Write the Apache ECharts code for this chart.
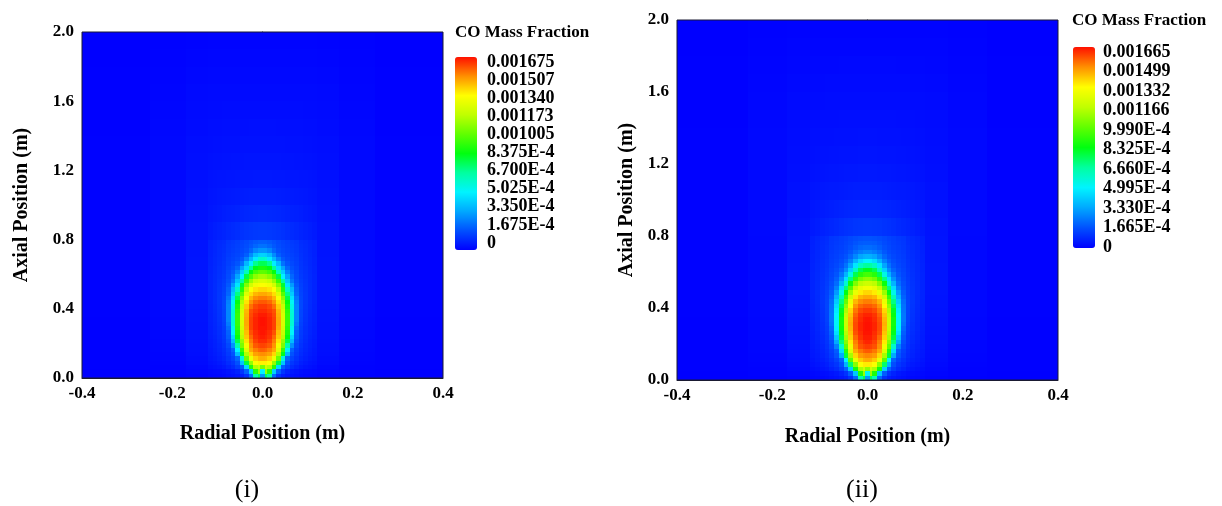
<!DOCTYPE html>
<html>
<head>
<meta charset="utf-8">
<title>CO Mass Fraction</title>
<script src="https://cdn.jsdelivr.net/npm/echarts/dist/echarts.min.js"></script>
<style>
  html, body { margin: 0; padding: 0; background: #fff; }
  #chart { width: 1222px; height: 506px; }
</style>
</head>
<body>
<div id="chart"></div>
<script>
// radial cell edges (m), mirrored about the axis when drawn
const radialEdges = [0, 0.005, 0.01, 0.02, 0.03, 0.04, 0.05, 0.06, 0.07, 0.08, 0.09, 0.10, 0.11, 0.12, 0.17, 0.25, 0.40];
// axial cell edges (m)
const axialEdges = [0, 0.025, 0.05, 0.075, 0.1, 0.125, 0.15, 0.175, 0.2, 0.225, 0.25, 0.275, 0.3, 0.325, 0.35, 0.375,
  0.4, 0.425, 0.45, 0.475, 0.5, 0.525, 0.55, 0.575, 0.6, 0.625, 0.65, 0.675, 0.7, 0.725, 0.75, 0.775, 0.8,
  0.9, 1.0, 1.1, 1.2, 1.3, 1.4, 1.5, 1.6, 1.7, 1.8, 1.9, 2.0];

// CO mass fraction (x 1e-4), one row per axial cell, one value per radial cell
const coLeft = [
  [3.0, 7.5, 6.5, 2.2, 1.0, 0.6, 0.45, 0.35, 0.3, 0.2, 0.17, 0.14, 0.12, 0.07, 0.03, 0.01],
  [5.0, 11.0, 9.0, 4.2, 2.0, 1.1, 0.7, 0.5, 0.4, 0.3, 0.24, 0.2, 0.17, 0.1, 0.04, 0.01],
  [10.5, 12.0, 11.5, 9.0, 4.5, 1.9, 1.3, 0.9, 0.7, 0.5, 0.4, 0.33, 0.27, 0.15, 0.05, 0.02],
  [13.6, 13.6, 13.3, 11.0, 7.8, 4.0, 1.7, 1.15, 0.9, 0.65, 0.52, 0.42, 0.35, 0.2, 0.07, 0.02],
  [14.6, 14.5, 14.1, 12.9, 10.3, 5.6, 2.1, 1.4, 1.05, 0.78, 0.62, 0.5, 0.41, 0.24, 0.08, 0.02],
  [15.1, 15.0, 14.8, 14.0, 11.5, 8.2, 3.8, 1.7, 1.2, 0.88, 0.7, 0.56, 0.46, 0.27, 0.09, 0.02],
  [15.7, 15.6, 15.3, 14.7, 12.6, 9.3, 5.0, 2.0, 1.3, 0.95, 0.75, 0.6, 0.49, 0.29, 0.1, 0.03],
  [16.1, 16.0, 15.8, 15.0, 13.1, 10.5, 6.5, 2.9, 1.5, 1.02, 0.8, 0.64, 0.52, 0.3, 0.1, 0.03],
  [16.4, 16.4, 16.1, 15.3, 13.8, 11.0, 7.7, 3.8, 1.7, 1.1, 0.85, 0.68, 0.55, 0.32, 0.11, 0.03],
  [16.6, 16.5, 16.3, 15.6, 14.2, 11.6, 8.4, 4.4, 1.9, 1.18, 0.9, 0.72, 0.58, 0.33, 0.12, 0.03],
  [16.7, 16.6, 16.4, 15.9, 14.4, 11.9, 8.8, 5.1, 2.0, 1.22, 0.94, 0.75, 0.6, 0.34, 0.12, 0.03],
  [16.7, 16.7, 16.5, 16.1, 14.6, 12.2, 9.1, 5.4, 2.2, 1.27, 0.97, 0.77, 0.62, 0.35, 0.13, 0.03],
  [16.75, 16.7, 16.5, 16.1, 14.7, 12.4, 9.3, 5.8, 2.5, 1.35, 1.0, 0.8, 0.64, 0.36, 0.13, 0.03],
  [16.75, 16.7, 16.5, 16.1, 14.7, 12.4, 9.3, 5.8, 2.7, 1.4, 1.04, 0.82, 0.66, 0.37, 0.13, 0.03],
  [16.6, 16.6, 16.4, 16.0, 14.6, 12.4, 9.3, 5.8, 2.7, 1.44, 1.06, 0.84, 0.67, 0.38, 0.14, 0.04],
  [16.4, 16.4, 16.2, 15.9, 14.5, 12.2, 9.1, 5.7, 2.7, 1.45, 1.08, 0.86, 0.69, 0.38, 0.14, 0.04],
  [16.2, 16.2, 16.0, 15.5, 14.2, 11.9, 8.8, 5.5, 2.7, 1.48, 1.12, 0.88, 0.7, 0.39, 0.15, 0.04],
  [15.8, 15.8, 15.6, 15.0, 13.8, 11.4, 8.4, 5.2, 2.6, 1.48, 1.13, 0.9, 0.72, 0.4, 0.15, 0.04],
  [15.3, 15.3, 15.1, 14.5, 13.2, 10.8, 7.7, 4.6, 2.4, 1.45, 1.13, 0.9, 0.73, 0.41, 0.15, 0.04],
  [14.7, 14.7, 14.5, 13.9, 12.5, 9.9, 7.0, 4.1, 2.1, 1.4, 1.13, 0.91, 0.74, 0.41, 0.15, 0.04],
  [14.0, 14.0, 13.8, 13.3, 11.6, 9.0, 6.0, 3.7, 2.0, 1.36, 1.1, 0.9, 0.74, 0.42, 0.15, 0.04],
  [13.3, 13.2, 13.0, 12.2, 10.6, 8.0, 4.7, 3.1, 1.8, 1.32, 1.08, 0.89, 0.74, 0.42, 0.15, 0.04],
  [12.4, 12.3, 12.0, 11.0, 9.3, 6.7, 4.0, 2.4, 1.65, 1.26, 1.06, 0.88, 0.73, 0.42, 0.15, 0.04],
  [11.3, 11.2, 10.8, 9.7, 7.8, 5.0, 3.3, 2.1, 1.55, 1.2, 1.03, 0.87, 0.73, 0.42, 0.15, 0.04],
  [10.0, 9.9, 9.5, 8.4, 6.2, 4.2, 2.6, 1.85, 1.48, 1.16, 1.0, 0.85, 0.72, 0.42, 0.15, 0.04],
  [8.8, 8.7, 8.3, 6.8, 4.5, 3.3, 2.1, 1.65, 1.4, 1.12, 0.98, 0.84, 0.71, 0.41, 0.15, 0.04],
  [7.6, 7.5, 6.9, 4.9, 3.7, 2.3, 1.75, 1.5, 1.32, 1.08, 0.95, 0.82, 0.7, 0.41, 0.15, 0.04],
  [6.0, 5.8, 4.8, 3.7, 2.6, 1.85, 1.55, 1.4, 1.27, 1.05, 0.93, 0.81, 0.69, 0.41, 0.15, 0.04],
  [4.3, 4.2, 3.8, 2.8, 1.95, 1.6, 1.45, 1.33, 1.22, 1.02, 0.91, 0.8, 0.68, 0.4, 0.15, 0.04],
  [3.0, 3.0, 2.7, 2.1, 1.7, 1.5, 1.38, 1.28, 1.18, 0.99, 0.89, 0.78, 0.67, 0.4, 0.15, 0.04],
  [2.3, 2.3, 2.1, 1.8, 1.6, 1.45, 1.33, 1.24, 1.15, 0.96, 0.87, 0.77, 0.66, 0.39, 0.15, 0.04],
  [1.95, 1.95, 1.85, 1.7, 1.52, 1.4, 1.3, 1.2, 1.12, 0.93, 0.85, 0.76, 0.66, 0.39, 0.15, 0.04],
  [1.2, 1.2, 1.18, 1.14, 1.08, 1.02, 0.95, 0.88, 0.81, 0.74, 0.67, 0.6, 0.53, 0.38, 0.17, 0.04],
  [0.85, 0.85, 0.84, 0.82, 0.79, 0.76, 0.72, 0.68, 0.64, 0.6, 0.55, 0.5, 0.46, 0.35, 0.17, 0.04],
  [0.63, 0.63, 0.62, 0.62, 0.6, 0.59, 0.57, 0.55, 0.53, 0.5, 0.48, 0.45, 0.42, 0.33, 0.17, 0.04],
  [0.5, 0.5, 0.5, 0.49, 0.49, 0.48, 0.47, 0.45, 0.44, 0.42, 0.41, 0.39, 0.37, 0.31, 0.17, 0.04],
  [0.42, 0.42, 0.42, 0.41, 0.41, 0.4, 0.4, 0.39, 0.38, 0.37, 0.36, 0.35, 0.33, 0.29, 0.17, 0.04],
  [0.36, 0.36, 0.36, 0.35, 0.35, 0.35, 0.34, 0.34, 0.33, 0.33, 0.32, 0.31, 0.3, 0.27, 0.16, 0.04],
  [0.31, 0.31, 0.31, 0.31, 0.3, 0.3, 0.3, 0.29, 0.29, 0.29, 0.28, 0.27, 0.27, 0.24, 0.15, 0.03],
  [0.26, 0.26, 0.26, 0.26, 0.26, 0.26, 0.25, 0.25, 0.25, 0.25, 0.24, 0.24, 0.23, 0.21, 0.13, 0.03],
  [0.21, 0.21, 0.21, 0.21, 0.21, 0.21, 0.21, 0.21, 0.21, 0.21, 0.2, 0.2, 0.2, 0.18, 0.11, 0.02],
  [0.17, 0.17, 0.17, 0.17, 0.17, 0.17, 0.17, 0.16, 0.16, 0.16, 0.16, 0.16, 0.16, 0.14, 0.08, 0.02],
  [0.12, 0.12, 0.12, 0.12, 0.12, 0.12, 0.12, 0.12, 0.12, 0.12, 0.12, 0.12, 0.12, 0.1, 0.06, 0.01],
  [0.08, 0.08, 0.08, 0.08, 0.08, 0.08, 0.08, 0.08, 0.08, 0.08, 0.08, 0.08, 0.08, 0.07, 0.04, 0.01]
];

const coRight = [
  [3.0, 7.5, 6.3, 2.1, 1.0, 0.6, 0.45, 0.35, 0.3, 0.2, 0.17, 0.14, 0.12, 0.07, 0.03, 0.01],
  [5.2, 11.0, 8.8, 4.0, 1.9, 1.05, 0.7, 0.5, 0.4, 0.3, 0.24, 0.2, 0.17, 0.1, 0.04, 0.01],
  [10.8, 12.0, 11.3, 8.6, 4.2, 2.0, 1.25, 0.88, 0.68, 0.48, 0.39, 0.32, 0.26, 0.15, 0.05, 0.02],
  [13.6, 13.6, 13.2, 10.7, 7.3, 3.6, 1.6, 1.1, 0.88, 0.63, 0.5, 0.41, 0.34, 0.19, 0.07, 0.02],
  [14.6, 14.5, 14.1, 12.8, 9.9, 5.1, 2.0, 1.35, 1.02, 0.75, 0.6, 0.49, 0.4, 0.23, 0.08, 0.02],
  [15.1, 15.0, 14.8, 13.9, 11.2, 7.8, 3.4, 1.7, 1.18, 0.85, 0.68, 0.55, 0.45, 0.26, 0.09, 0.02],
  [15.7, 15.6, 15.3, 14.6, 12.4, 8.9, 4.5, 1.9, 1.28, 0.92, 0.73, 0.59, 0.48, 0.28, 0.1, 0.03],
  [16.1, 16.0, 15.8, 15.0, 12.9, 10.0, 5.9, 2.6, 1.45, 1.0, 0.78, 0.63, 0.51, 0.29, 0.1, 0.03],
  [16.4, 16.3, 16.0, 15.2, 13.6, 10.6, 7.1, 3.4, 1.6, 1.06, 0.83, 0.67, 0.54, 0.31, 0.11, 0.03],
  [16.5, 16.5, 16.2, 15.5, 14.0, 11.2, 7.8, 4.0, 1.8, 1.13, 0.88, 0.7, 0.57, 0.32, 0.12, 0.03],
  [16.6, 16.6, 16.3, 15.8, 14.2, 11.5, 8.2, 4.6, 1.95, 1.18, 0.92, 0.73, 0.59, 0.33, 0.12, 0.03],
  [16.65, 16.6, 16.4, 15.9, 14.4, 11.8, 8.5, 4.9, 2.1, 1.23, 0.95, 0.76, 0.61, 0.34, 0.13, 0.03],
  [16.65, 16.6, 16.4, 15.9, 14.5, 11.9, 8.6, 5.1, 2.3, 1.3, 0.98, 0.78, 0.63, 0.35, 0.13, 0.03],
  [16.6, 16.55, 16.3, 15.8, 14.4, 11.9, 8.6, 5.1, 2.4, 1.35, 1.02, 0.8, 0.65, 0.36, 0.13, 0.03],
  [16.4, 16.4, 16.2, 15.6, 14.2, 11.7, 8.4, 5.0, 2.4, 1.38, 1.04, 0.82, 0.66, 0.37, 0.14, 0.04],
  [16.1, 16.1, 15.9, 15.3, 13.9, 11.3, 8.1, 4.8, 2.35, 1.4, 1.06, 0.84, 0.68, 0.38, 0.14, 0.04],
  [15.7, 15.7, 15.5, 14.9, 13.4, 10.8, 7.6, 4.5, 2.3, 1.42, 1.09, 0.86, 0.69, 0.39, 0.15, 0.04],
  [15.2, 15.2, 15.0, 14.4, 12.8, 10.1, 7.0, 4.1, 2.2, 1.4, 1.1, 0.88, 0.71, 0.4, 0.15, 0.04],
  [14.6, 14.6, 14.4, 13.7, 12.0, 9.3, 6.3, 3.6, 2.0, 1.37, 1.1, 0.88, 0.72, 0.4, 0.15, 0.04],
  [13.9, 13.9, 13.6, 12.8, 11.0, 8.3, 5.4, 3.1, 1.85, 1.33, 1.09, 0.89, 0.73, 0.41, 0.15, 0.04],
  [13.0, 13.0, 12.7, 11.8, 9.8, 7.1, 4.5, 2.6, 1.7, 1.29, 1.07, 0.88, 0.73, 0.41, 0.15, 0.04],
  [12.0, 11.9, 11.6, 10.5, 8.5, 5.8, 3.6, 2.2, 1.6, 1.25, 1.05, 0.87, 0.73, 0.41, 0.15, 0.04],
  [10.8, 10.7, 10.3, 9.1, 7.0, 4.6, 2.9, 1.95, 1.5, 1.2, 1.03, 0.86, 0.72, 0.41, 0.15, 0.04],
  [9.5, 9.4, 9.0, 7.6, 5.5, 3.6, 2.4, 1.75, 1.43, 1.16, 1.0, 0.85, 0.72, 0.41, 0.15, 0.04],
  [8.2, 8.1, 7.6, 6.1, 4.2, 2.8, 2.0, 1.6, 1.37, 1.12, 0.98, 0.84, 0.71, 0.41, 0.15, 0.04],
  [6.7, 6.6, 6.1, 4.7, 3.3, 2.3, 1.75, 1.48, 1.31, 1.09, 0.96, 0.83, 0.7, 0.41, 0.15, 0.04],
  [5.0, 4.9, 4.5, 3.6, 2.6, 1.95, 1.6, 1.4, 1.26, 1.06, 0.94, 0.81, 0.69, 0.4, 0.15, 0.04],
  [3.6, 3.5, 3.3, 2.7, 2.1, 1.7, 1.48, 1.34, 1.22, 1.03, 0.92, 0.8, 0.68, 0.4, 0.15, 0.04],
  [2.7, 2.7, 2.5, 2.2, 1.8, 1.55, 1.4, 1.28, 1.18, 1.0, 0.9, 0.79, 0.67, 0.4, 0.15, 0.04],
  [2.2, 2.2, 2.1, 1.9, 1.65, 1.47, 1.34, 1.24, 1.15, 0.97, 0.88, 0.77, 0.66, 0.39, 0.15, 0.04],
  [1.9, 1.9, 1.85, 1.72, 1.55, 1.41, 1.3, 1.2, 1.12, 0.94, 0.86, 0.76, 0.65, 0.39, 0.15, 0.04],
  [1.7, 1.7, 1.66, 1.58, 1.47, 1.36, 1.26, 1.17, 1.1, 0.92, 0.84, 0.75, 0.65, 0.39, 0.15, 0.04],
  [1.15, 1.15, 1.13, 1.1, 1.05, 0.99, 0.93, 0.86, 0.8, 0.73, 0.66, 0.59, 0.52, 0.37, 0.17, 0.04],
  [0.82, 0.82, 0.81, 0.79, 0.77, 0.74, 0.7, 0.66, 0.62, 0.58, 0.54, 0.49, 0.45, 0.34, 0.17, 0.04],
  [0.61, 0.61, 0.6, 0.6, 0.59, 0.57, 0.55, 0.53, 0.51, 0.49, 0.47, 0.44, 0.41, 0.33, 0.17, 0.04],
  [0.49, 0.49, 0.49, 0.48, 0.48, 0.47, 0.46, 0.44, 0.43, 0.41, 0.4, 0.38, 0.36, 0.3, 0.17, 0.04],
  [0.41, 0.41, 0.41, 0.4, 0.4, 0.39, 0.39, 0.38, 0.37, 0.36, 0.35, 0.34, 0.32, 0.28, 0.17, 0.04],
  [0.35, 0.35, 0.35, 0.34, 0.34, 0.34, 0.33, 0.33, 0.32, 0.32, 0.31, 0.3, 0.29, 0.26, 0.16, 0.04],
  [0.3, 0.3, 0.3, 0.3, 0.29, 0.29, 0.29, 0.28, 0.28, 0.28, 0.27, 0.26, 0.26, 0.23, 0.15, 0.03],
  [0.25, 0.25, 0.25, 0.25, 0.25, 0.25, 0.24, 0.24, 0.24, 0.24, 0.23, 0.23, 0.22, 0.2, 0.13, 0.03],
  [0.2, 0.2, 0.2, 0.2, 0.2, 0.2, 0.2, 0.2, 0.2, 0.2, 0.19, 0.19, 0.19, 0.17, 0.1, 0.02],
  [0.16, 0.16, 0.16, 0.16, 0.16, 0.16, 0.16, 0.15, 0.15, 0.15, 0.15, 0.15, 0.15, 0.13, 0.08, 0.02],
  [0.11, 0.11, 0.11, 0.11, 0.11, 0.11, 0.11, 0.11, 0.11, 0.11, 0.11, 0.11, 0.11, 0.1, 0.06, 0.01],
  [0.07, 0.07, 0.07, 0.07, 0.07, 0.07, 0.07, 0.07, 0.07, 0.07, 0.07, 0.07, 0.07, 0.06, 0.04, 0.01]
];

// colour bar tick labels, bottom to top
const legendLeft = ['0', '1.675E-4', '3.350E-4', '5.025E-4', '6.700E-4', '8.375E-4', '0.001005', '0.001173', '0.001340', '0.001507', '0.001675'];
const legendRight = ['0', '1.665E-4', '3.330E-4', '4.995E-4', '6.660E-4', '8.325E-4', '9.990E-4', '0.001166', '0.001332', '0.001499', '0.001665'];
const maxLeft = 16.75;   // x 1e-4
const maxRight = 16.65;

const fontFamily = "'Liberation Serif', 'Times New Roman', serif";
const rainbow = ['#0000ff', '#0050ff', '#00a8ff', '#00f4ff', '#00ffa0', '#00ff10', '#60ff00', '#c0ff00', '#ffff00', '#ff9000', '#ff1000'];

function buildCells(field) {
  const out = [];
  field.forEach((row, i) => {
    row.forEach((v, j) => {
      const r0 = radialEdges[j], r1 = radialEdges[j + 1];
      out.push([r0, r1, axialEdges[i], axialEdges[i + 1], v]);
      out.push([-r1, -r0, axialEdges[i], axialEdges[i + 1], v]);
    });
  });
  return out;
}

function renderCell(params, api) {
  const a = api.coord([api.value(0), api.value(3)]);
  const b = api.coord([api.value(1), api.value(2)]);
  const x0 = Math.round(a[0]), x1 = Math.round(b[0]);
  const y0 = Math.round(a[1]), y1 = Math.round(b[1]);
  return {
    type: 'rect',
    shape: { x: x0, y: y0, width: x1 - x0, height: y1 - y0 },
    style: { fill: api.visual('color') }
  };
}

const tickLabel = { color: '#000', fontFamily: fontFamily, fontWeight: 'bold', fontSize: 17 };
const nameStyle = { color: '#000', fontFamily: fontFamily, fontWeight: 'bold', fontSize: 20 };

function plotX(grid, gap) {
  return {
    gridIndex: grid, type: 'value', min: -0.4, max: 0.4, interval: 0.2,
    name: 'Radial Position (m)', nameLocation: 'middle', nameGap: gap, nameTextStyle: nameStyle,
    axisLine: { show: true, lineStyle: { color: '#1a1a33', width: 1 } },
    axisTick: { show: false }, splitLine: { show: false },
    axisLabel: Object.assign({ margin: 7, formatter: v => v.toFixed(1) }, tickLabel)
  };
}
function plotY(grid, gap) {
  return {
    gridIndex: grid, type: 'value', min: 0, max: 2, interval: 0.4,
    name: 'Axial Position (m)', nameLocation: 'middle', nameGap: gap, nameTextStyle: nameStyle,
    axisLine: { show: true, lineStyle: { color: '#1a1a33', width: 1 } },
    axisTick: { show: false }, splitLine: { show: false },
    axisLabel: Object.assign({ margin: 8, formatter: v => v.toFixed(1) }, tickLabel)
  };
}
function barY(grid, labels, margin) {
  return {
    gridIndex: grid, type: 'category', data: labels, boundaryGap: false, position: 'right',
    axisLine: { show: false }, axisTick: { show: false }, splitLine: { show: false },
    axisLabel: Object.assign({ margin: margin, align: 'left', interval: 0 }, tickLabel, { fontSize: 18 })
  };
}

const chart = echarts.init(document.getElementById('chart'));
chart.setOption({
  animation: false,
  backgroundColor: '#fff',
  grid: [
    { left: 82, top: 32, width: 361, height: 346, show: true, z: 5, borderColor: '#1a1a33', borderWidth: 1, backgroundColor: 'transparent' },
    { left: 455, top: 62, width: 22, height: 181 },
    { left: 677, top: 20, width: 381, height: 360, show: true, z: 5, borderColor: '#1a1a33', borderWidth: 1, backgroundColor: 'transparent' },
    { left: 1073, top: 52, width: 22, height: 195 }
  ],
  xAxis: [
    plotX(0, 46),
    { gridIndex: 1, type: 'value', show: false },
    plotX(2, 47),
    { gridIndex: 3, type: 'value', show: false }
  ],
  yAxis: [
    plotY(0, 50),
    barY(1, legendLeft, 10),
    plotY(2, 40),
    barY(3, legendRight, 8)
  ],
  visualMap: [
    {
      type: 'continuous', seriesIndex: 0, dimension: 4, min: 0, max: maxLeft,
      calculable: false, padding: 0, orient: 'vertical',
      left: 455, top: 57, itemWidth: 22, itemHeight: 193,
      inRange: { color: rainbow }
    },
    {
      type: 'continuous', seriesIndex: 1, dimension: 4, min: 0, max: maxRight,
      calculable: false, padding: 0, orient: 'vertical',
      left: 1073, top: 47, itemWidth: 22, itemHeight: 201,
      inRange: { color: rainbow }
    }
  ],
  graphic: [
    { type: 'text', x: 455, y: 33, style: { text: 'CO Mass Fraction', font: 'bold 17px ' + fontFamily, fill: '#000', textAlign: 'left', textVerticalAlign: 'middle' } },
    { type: 'text', x: 1072, y: 21, style: { text: 'CO Mass Fraction', font: 'bold 17px ' + fontFamily, fill: '#000', textAlign: 'left', textVerticalAlign: 'middle' } },
    { type: 'text', x: 247, y: 490, style: { text: '(i)', font: '26px ' + fontFamily, fill: '#000', textAlign: 'center', textVerticalAlign: 'middle' } },
    { type: 'text', x: 862, y: 490, style: { text: '(ii)', font: '26px ' + fontFamily, fill: '#000', textAlign: 'center', textVerticalAlign: 'middle' } }
  ],
  series: [
    {
      type: 'custom', xAxisIndex: 0, yAxisIndex: 0, silent: true, clip: true,
      encode: { x: [0, 1], y: [2, 3] },
      renderItem: renderCell, data: buildCells(coLeft)
    },
    {
      type: 'custom', xAxisIndex: 2, yAxisIndex: 2, silent: true, clip: true,
      encode: { x: [0, 1], y: [2, 3] },
      renderItem: renderCell, data: buildCells(coRight)
    }
  ]
});
</script>
</body>
</html>
